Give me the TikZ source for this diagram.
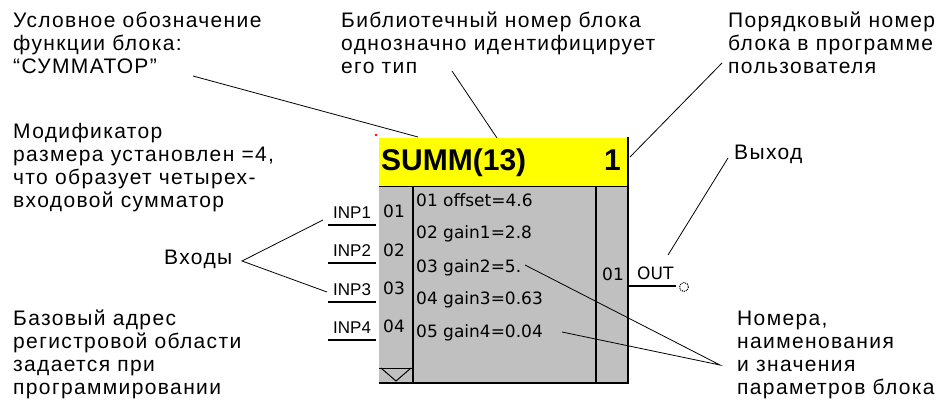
\documentclass[tikz,border=0pt]{standalone}
\usepackage{fontspec}
\setmainfont{Liberation Sans}
\newfontfamily\lblfont[LetterSpace=6.5]{Liberation Sans}
\newfontfamily\pixfont{DejaVu Sans}
\begin{document}
\begin{tikzpicture}[x=1pt,y=-1pt,
  lbl/.style={anchor=north west, inner sep=0pt, align=left, font=\lblfont\fontsize{21}{23}\selectfont},
  lbl1/.style={anchor=base west, inner sep=0pt, font=\lblfont\fontsize{21}{23}\selectfont},
  par/.style={anchor=base west, inner sep=0pt, font=\pixfont\fontsize{17}{18}\selectfont},
  pinlbl/.style={anchor=base west, inner sep=0pt, font=\fontsize{17}{18}\selectfont},
  num/.style={anchor=base west, inner sep=0pt, font=\pixfont\fontsize{17}{18}\selectfont},
  hdr/.style={inner sep=0pt, font=\bfseries\fontsize{30}{32}\selectfont},
  conn/.style={draw=black, line width=0.8pt},
  edge/.style={draw=black, line width=2pt},
  pinline/.style={draw=black, line width=1.8pt}]
\definecolor{hdryellow}{HTML}{FFFF00}
\definecolor{bodygray}{HTML}{C0C0C0}
\useasboundingbox (0,0) rectangle (944,405);
\fill[white] (0,0) rectangle (944,405);

% block
\fill[hdryellow] (379,138) rectangle (628,186);
\fill[bodygray] (379,186) rectangle (628,383);
\draw[black, line width=1pt] (379,186) -- (628,186);
\draw[edge] (628,137) -- (628,384);
\draw[edge] (379,383) -- (629,383);
\draw[edge] (413,186) -- (413,383);
\draw[edge] (596,186) -- (596,383);
\draw[black, line width=1pt] (379,368) -- (413,368);
\draw[black, line width=1pt] (381,368) -- (396,381) -- (411,368);
\fill[red] (376,135) circle (1.3);

\node[hdr, anchor=base west] (title) at (381,170) {SUMM(13)};
\node[hdr, anchor=base east] (seq) at (621,170) {1};

% input pins
\node[pinlbl] (inp1) at (333,218) {INP1};
\node[pinlbl] (inp2) at (333,256) {INP2};
\node[pinlbl] (inp3) at (333,295) {INP3};
\node[pinlbl] (inp4) at (333,333) {INP4};
\draw[pinline] (328,225) -- (376,225);
\draw[pinline] (328,263) -- (376,263);
\draw[pinline] (328,302) -- (376,302);
\draw[pinline] (328,340) -- (376,340);
\node[num] (n1) at (383,217) {01};
\node[num] (n2) at (383,256) {02};
\node[num] (n3) at (383,294) {03};
\node[num] (n4) at (383,332) {04};

% parameters
\node[par] (p1) at (416,206) {01 offset=4.6};
\node[par] (p2) at (416,238) {02 gain1=2.8};
\node[par] (p3) at (416,272) {03 gain2=5.};
\node[par] (p4) at (416,304) {04 gain3=0.63};
\node[par] (p5) at (416,337) {05 gain4=0.04};

% output
\node[num] (o1) at (602,280) {01};
\node[num] (out) at (637,279) {OUT};
\draw[line width=1.6pt] (628,286) -- (676,286);
\draw[densely dotted, line width=1pt] (684,287) circle (4.5);

% labels
\node[lbl] (lsym) at (13,10.9) {\strut Условное обозначение\\функции блока:\\“СУММАТОР”};
\node[lbl] (llib) at (341,10.9) {\strut Библиотечный номер блока\\однозначно идентифицирует\\его тип};
\node[lbl] (lseq) at (728,10.9) {\strut Порядковый номер\\блока в программе\\пользователя};
\node[lbl] (lmod) at (13,121.9) {\strut Модификатор\\размера установлен =4,\\что образует четырех-\\входовой сумматор};
\node[lbl1] (lin) at (164,264) {Входы};
\node[lbl] (lbase) at (13,308.9) {\strut Базовый адрес\\регистровой области\\задается при\\программировании};
\node[lbl1] (lout) at (734,159) {Выход};
\node[lbl] (lpar) at (737,308.9) {\strut Номера,\\наименования\\и значения\\параметров блока};

% connector endpoints
\coordinate (symA) at (193,76);
\coordinate (symB) at (418,137);
\coordinate (libA) at (452,71);
\coordinate (libB) at (497,138);
\coordinate (seqA) at (722,63);
\coordinate (seqB) at (630,157);
\coordinate (outA) at (728,158);
\coordinate (outB) at (668,255);
\coordinate (inV) at (242,261);
\coordinate (inT1) at (323,220);
\coordinate (inT3) at (327,292);
\coordinate (parV) at (720,365);
\coordinate (p3e) at (525,265);
\coordinate (p5e) at (562,332);

\draw[conn] (symA) -- (symB);
\draw[conn] (libA) -- (libB);
\draw[conn] (seqA) -- (seqB);
\draw[conn] (outA) -- (outB);
\draw[conn] (inT1) -- (inV) -- (inT3);
\draw[conn] (p3e) -- (parV) -- (p5e);
\end{tikzpicture}
\end{document}
